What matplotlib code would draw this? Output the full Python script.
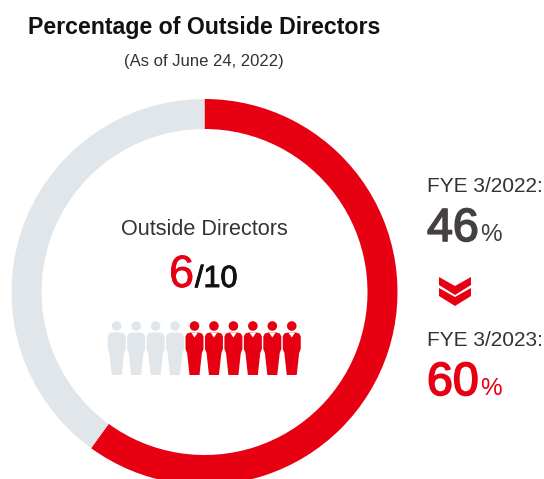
#!/usr/bin/env python3
"""Percentage of outside directors: donut, people icons and year-on-year figures."""
import matplotlib
matplotlib.use("Agg")
import matplotlib.pyplot as plt
import matplotlib.patheffects as pe
from matplotlib.patches import Circle, Polygon

plt.rcParams["font.family"] = ["Liberation Sans", "DejaVu Sans"]

W, H = 544, 479
RED = "#E60012"
GRAY = "#E1E6EA"
INK = "#333333"
DARK = "#444040"

slice_labels = ["Outside", "Inside"]
slice_values = [60, 40]
outside_directors = 6
total_directors = 10
year_labels = ["FYE 3/2022:", "FYE 3/2023:"]
year_values = [46, 60]

fig = plt.figure(figsize=(W / 100, H / 100), dpi=100)
ax = fig.add_axes([0, 0, 1, 1])
ax.set_xlim(0, W)
ax.set_ylim(0, H)


def Y(y):
    # pixel rows from the top
    return H - y


def heavier(width, color):
    return [pe.withStroke(linewidth=width, foreground=color)]


# ---- donut -------------------------------------------------------------------
ax.pie(slice_values, colors=[RED, GRAY], startangle=90, counterclock=False,
       center=(204.5, Y(292)), radius=193, frame=True,
       wedgeprops=dict(width=30, linewidth=0))
ax.set_xlim(0, W)
ax.set_ylim(0, H)
ax.set_aspect("equal")
ax.axis("off")


# ---- people ------------------------------------------------------------------
def person(cx, color):
    ax.add_patch(Circle((cx, Y(326)), 4.8, fc=color, ec="none"))
    body = [(-4, 332.5), (4, 332.5), (7.5, 333.5), (9, 336.5), (9, 349), (7.4, 353),
            (5, 375), (-5, 375), (-7.4, 353), (-9, 349), (-9, 336.5), (-7.5, 333.5)]
    ax.add_patch(Polygon([(cx + dx, Y(y)) for dx, y in body], fc=color, ec="none"))
    if color == RED:
        collar = [(-3.4, 332.5), (3.4, 332.5), (0, 337.5)]
        ax.add_patch(Polygon([(cx + dx, Y(y)) for dx, y in collar], fc="white", ec="none"))


for i in range(total_directors):
    is_outside = i >= total_directors - outside_directors
    person(116.7 + i * 19.45, RED if is_outside else GRAY)

# ---- centre text -------------------------------------------------------------
ax.text(204.5, Y(229), "Outside Directors", ha="center", va="center", fontsize=15.6, color=INK)
ax.text(169, Y(287), str(outside_directors), ha="left", va="baseline", fontsize=32.5, color=RED,
        path_effects=heavier(0.5, RED))
ax.text(195, Y(287), f"/{total_directors}", ha="left", va="baseline", fontsize=22,
        color="#111111", path_effects=heavier(0.7, "#111111"))

# ---- title -------------------------------------------------------------------
ax.text(204.5, Y(34), "Percentage of Outside Directors", ha="center", va="baseline",
        fontsize=16.7, fontweight="bold", color="#111111")
ax.text(204, Y(66), "(As of June 24, 2022)", ha="center", va="baseline", fontsize=12, color=INK)

# ---- right column ------------------------------------------------------------
ax.text(427, Y(192), year_labels[0], ha="left", va="baseline", fontsize=15, color=INK)
ax.text(427, Y(241), str(year_values[0]), ha="left", va="baseline", fontsize=33.5,
        color=DARK, path_effects=heavier(1.2, DARK))
ax.text(480, Y(241), "%", ha="left", va="baseline", fontsize=17.5, color=DARK)

ax.text(427, Y(346), year_labels[1], ha="left", va="baseline", fontsize=15, color=INK)
ax.text(427, Y(395), str(year_values[1]), ha="left", va="baseline", fontsize=33.5,
        color=RED, path_effects=heavier(1.2, RED))
ax.text(480, Y(395), "%", ha="left", va="baseline", fontsize=17.5, color=RED)

for top in (277, 288):
    chev = [(439, top), (455, top + 9), (471, top), (471, top + 8), (455, top + 18), (439, top + 8)]
    ax.add_patch(Polygon([(x, Y(y)) for x, y in chev], fc=RED, ec="none"))

fig.savefig("out.png", dpi=100)
